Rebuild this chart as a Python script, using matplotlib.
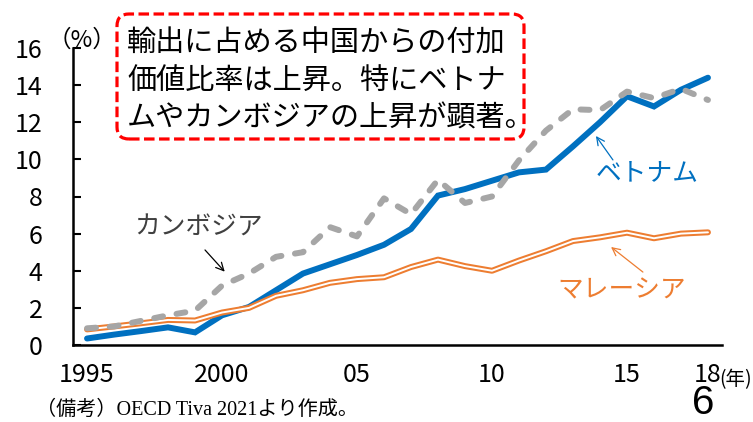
import numpy as np
import matplotlib.pyplot as plt
from matplotlib.patches import FancyBboxPatch

plt.rcParams['font.family'] = ['Liberation Sans', 'Noto Sans CJK JP']
narrow = ['Liberation Sans Narrow', 'Noto Sans CJK JP']

# 中国からの付加価値比率 (%)
years = np.arange(1995, 2019)
vietnam = [0.35, 0.56, 0.75, 0.95, 0.68, 1.6, 2.05, 2.95, 3.85, 4.35, 4.85, 5.4,
           6.25, 8.05, 8.4, 8.85, 9.3, 9.45, 10.7, 12.0, 13.4, 12.85, 13.75, 14.4]
cambodia = [0.9, 1.0, 1.3, 1.6, 1.85, 3.2, 3.85, 4.75, 5.0, 6.35, 5.85, 7.9,
            7.05, 8.9, 7.65, 8.0, 9.95, 11.55, 12.7, 12.65, 13.65, 13.3, 13.8, 13.2]
malaysia = [0.84, 1.0, 1.17, 1.35, 1.32, 1.75, 2.0, 2.65, 2.95, 3.35, 3.55, 3.65,
            4.2, 4.6, 4.25, 4.0, 4.55, 5.05, 5.6, 5.8, 6.05, 5.75, 6.0, 6.07]

xticks = [1995, 2000, 2005, 2010, 2015, 2018]
xticklabels = ['1995', '2000', '05', '10', '15', '18']
yticks = [0, 2, 4, 6, 8, 10, 12, 14, 16]

callout = ['輸出に占める中国からの付加',
           '価値比率は上昇。特にベトナ',
           'ムやカンボジアの上昇が顕著。']

blue = '#0070C0'
gray = '#A6A6A6'
orange = '#ED7D31'

W, H = 753, 422
fig = plt.figure(figsize=(W / 100, H / 100), dpi=100)


def fx(x):
    return x / W


def fy(y):
    return 1 - y / H


ax = fig.add_axes([fx(73), fy(345), fx(722) - fx(73), fy(48) - fy(345)])

ax.plot(years, vietnam, color=blue, lw=4.3, solid_capstyle='round',
        solid_joinstyle='miter', zorder=2)
# マレーシアは白抜きの二重線
ax.plot(years, malaysia, color=orange, lw=4.3, solid_capstyle='round', zorder=3)
ax.plot(years, malaysia, color='white', lw=1.4, solid_capstyle='round', zorder=3)
ax.plot(years, cambodia, color=gray, lw=4.3, dashes=(1.5, 2.3),
        dash_capstyle='round', zorder=4)

ax.set_xlim(1994.48, 2018.52)
ax.set_ylim(0, 16)
ax.set_xticks(xticks)
ax.set_xticklabels(xticklabels)
ax.set_yticks(yticks)
ax.tick_params(axis='x', length=0, pad=12)
ax.tick_params(axis='y', direction='in', length=6, width=1.5, pad=22)
for lab in ax.get_xticklabels() + ax.get_yticklabels():
    lab.set_family(narrow)
    lab.set_fontsize(18)
for s in ['top', 'right']:
    ax.spines[s].set_visible(False)
for s in ['left', 'bottom']:
    ax.spines[s].set_linewidth(1.8)

# 系列ラベルと矢印
ax.text(1999.15, 6.3, 'カンボジア', color='#404040', fontsize=18.5,
        ha='center', va='center')
ax.annotate('', xy=(2000.1, 3.95), xytext=(1999.37, 5.12),
            arrowprops=dict(arrowstyle='->', color='black', lw=0.9,
                            mutation_scale=14, shrinkA=0, shrinkB=0))
ax.text(2015.75, 9.27, 'ベトナム', color=blue, fontsize=18.5,
        ha='center', va='center')
ax.annotate('', xy=(2013.85, 11.26), xytext=(2014.48, 9.97),
            arrowprops=dict(arrowstyle='->', color=blue, lw=0.9,
                            mutation_scale=14, shrinkA=0, shrinkB=0))
ax.text(2014.8, 2.96, 'マレーシア', color=orange, fontsize=18.5,
        ha='center', va='center')
ax.annotate('', xy=(2014.41, 5.28), xytext=(2015.59, 3.93),
            arrowprops=dict(arrowstyle='->', color=orange, lw=0.9,
                            mutation_scale=14, shrinkA=0, shrinkB=0))

# 単位・年
fig.text(fx(82), fy(40), '（%）', fontsize=17, ha='center', va='center',
         family=['Noto Sans CJK JP'])
fig.text(fx(719), fy(380), '(年)', fontsize=14, ha='left', va='center',
         family=narrow)

# 吹き出し枠
box = FancyBboxPatch((1.17, (H - 139) / 100), 4.07, 1.25,
                     boxstyle='round,pad=0,rounding_size=0.12',
                     transform=fig.dpi_scale_trans, fill=False,
                     edgecolor='#FF0000', lw=2.3, linestyle=(0, (3.3, 1.4)))
fig.add_artist(box)
for i, line in enumerate(callout):
    fig.text(fx(127), fy(44 + 37.5 * i), line, fontsize=21, ha='left',
             va='center', family=['Noto Sans CJK JP'])

# 出所
fig.text(fx(36), fy(410), '（備考）OECD Tiva 2021より作成。', fontsize=14.5,
         ha='left', va='center', family=['Liberation Serif', 'Noto Sans CJK JP'])

# ページ番号
fig.text(fx(703), fy(414), '6', fontsize=29, ha='center', va='baseline')

fig.savefig('out.png', dpi=100)
